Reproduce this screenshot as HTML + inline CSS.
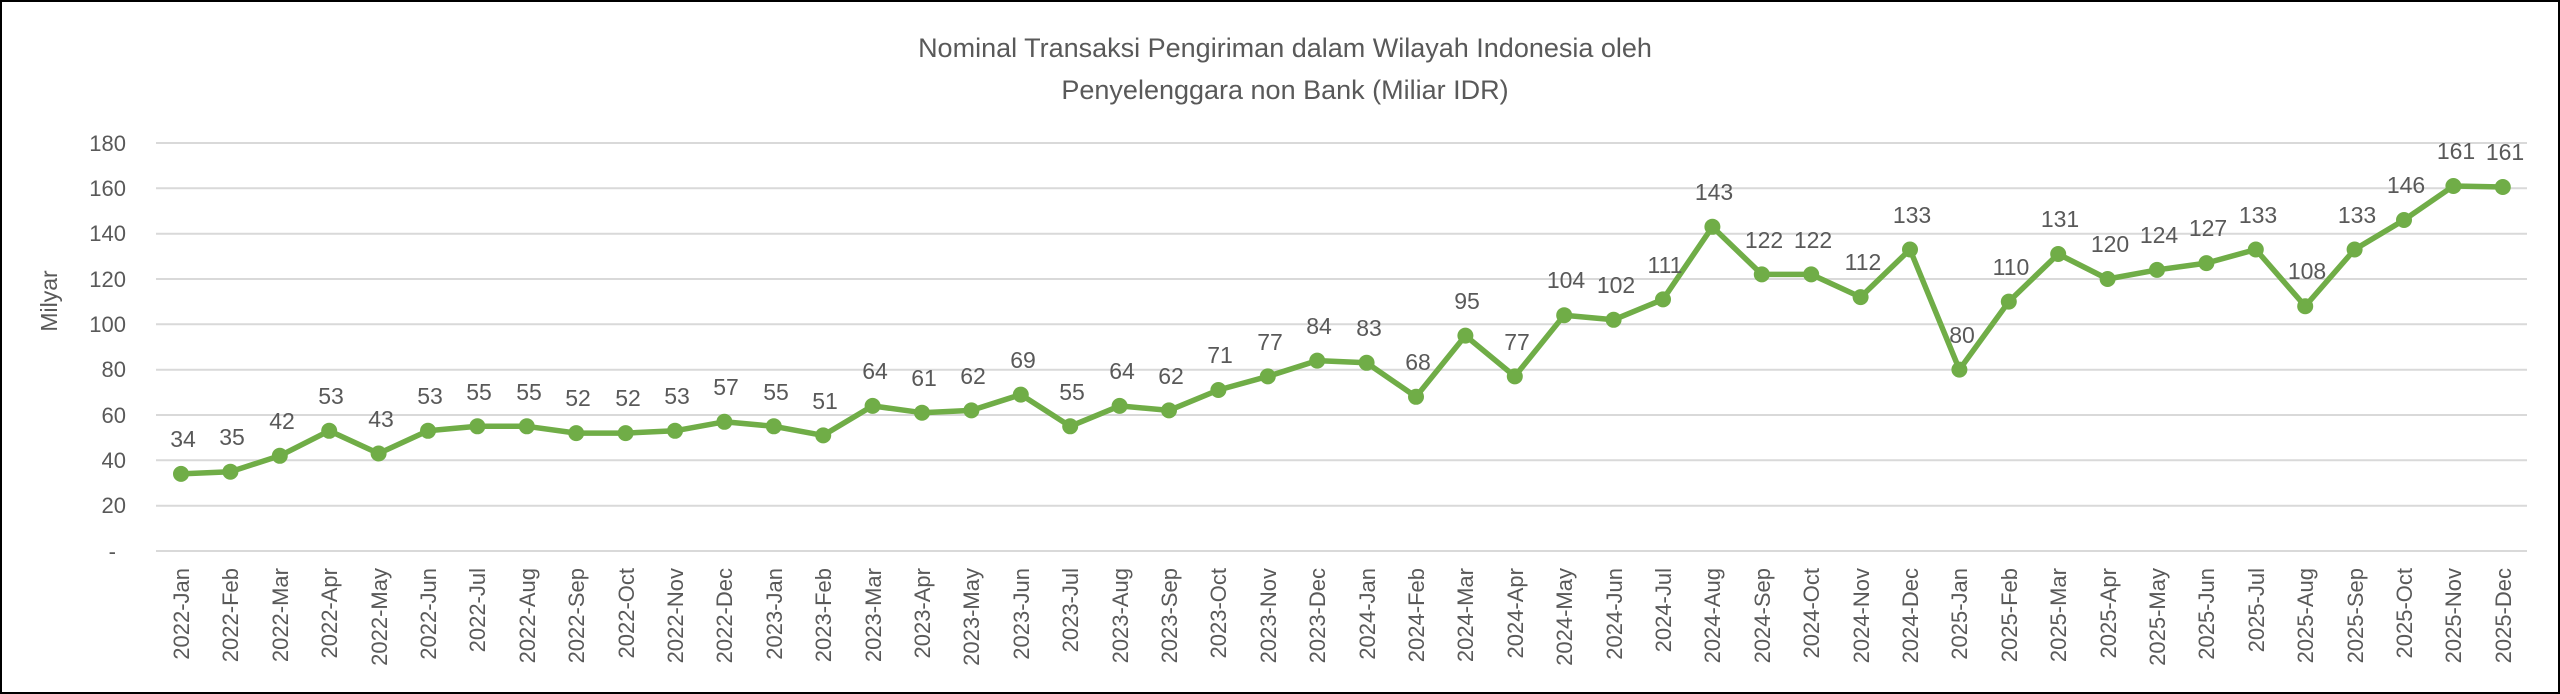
<!DOCTYPE html>
<html><head><meta charset="utf-8"><style>
html,body{margin:0;padding:0;background:#fff}
svg{display:block}
text{font-family:"Liberation Sans",sans-serif;fill:#595959}
</style></head><body>
<svg width="2560" height="694" viewBox="0 0 2560 694" xmlns="http://www.w3.org/2000/svg">
<rect x="1" y="1" width="2558" height="692" fill="#fff" stroke="#000" stroke-width="2"/>
<text x="1285" y="57" font-size="27" text-anchor="middle">Nominal Transaksi Pengiriman dalam Wilayah Indonesia oleh</text>
<text x="1285" y="99" font-size="27" text-anchor="middle">Penyelenggara non Bank (Miliar IDR)</text>
<g stroke="#d9d9d9" stroke-width="2">
<line x1="156" x2="2527" y1="143" y2="143"/><line x1="156" x2="2527" y1="188.3" y2="188.3"/>
<line x1="156" x2="2527" y1="233.7" y2="233.7"/><line x1="156" x2="2527" y1="279" y2="279"/>
<line x1="156" x2="2527" y1="324.3" y2="324.3"/><line x1="156" x2="2527" y1="369.7" y2="369.7"/>
<line x1="156" x2="2527" y1="415" y2="415"/><line x1="156" x2="2527" y1="460.3" y2="460.3"/>
<line x1="156" x2="2527" y1="505.7" y2="505.7"/><line x1="156" x2="2527" y1="551" y2="551"/>
</g>
<g font-size="22" text-anchor="end">
<text x="126" y="151">180</text><text x="126" y="196">160</text><text x="126" y="241">140</text>
<text x="126" y="287">120</text><text x="126" y="332">100</text><text x="126" y="377">80</text>
<text x="126" y="423">60</text><text x="126" y="468">40</text><text x="126" y="513">20</text>
<text x="116" y="559">-</text>
</g>
<text transform="translate(57,301) rotate(-90)" font-size="23" text-anchor="middle">Milyar</text>
<polyline fill="none" stroke="#70ad47" stroke-width="5.5" stroke-linejoin="round" points="181,473.9 230.4,471.7 279.8,455.8 329.2,430.8 378.6,453.5 428,430.8 477.4,426.3 526.8,426.3 576.2,433.1 625.6,433.1 675,430.8 724.4,421.8 773.8,426.3 823.2,435.4 872.6,405.9 922,412.7 971.4,410.4 1020.8,394.6 1070.2,426.3 1119.6,405.9 1169,410.4 1218.4,390 1267.8,376.4 1317.2,360.6 1366.6,362.8 1416,396.8 1465.4,335.6 1514.8,376.4 1564.2,315.2 1613.6,319.8 1663,299.4 1712.4,226.8 1761.8,274.4 1811.2,274.4 1860.6,297.1 1910,249.5 1959.4,369.6 2008.8,301.6 2058.2,254 2107.6,279 2157,269.9 2206.4,263.1 2255.8,249.5 2305.2,306.2 2354.6,249.5 2404,220 2453.4,186 2502.8,187"/>
<g fill="#70ad47">
<circle cx="181" cy="473.9" r="8"/><circle cx="230.4" cy="471.7" r="8"/><circle cx="279.8" cy="455.8" r="8"/><circle cx="329.2" cy="430.8" r="8"/><circle cx="378.6" cy="453.5" r="8"/><circle cx="428" cy="430.8" r="8"/><circle cx="477.4" cy="426.3" r="8"/><circle cx="526.8" cy="426.3" r="8"/><circle cx="576.2" cy="433.1" r="8"/><circle cx="625.6" cy="433.1" r="8"/><circle cx="675" cy="430.8" r="8"/><circle cx="724.4" cy="421.8" r="8"/><circle cx="773.8" cy="426.3" r="8"/><circle cx="823.2" cy="435.4" r="8"/><circle cx="872.6" cy="405.9" r="8"/><circle cx="922" cy="412.7" r="8"/><circle cx="971.4" cy="410.4" r="8"/><circle cx="1020.8" cy="394.6" r="8"/><circle cx="1070.2" cy="426.3" r="8"/><circle cx="1119.6" cy="405.9" r="8"/><circle cx="1169" cy="410.4" r="8"/><circle cx="1218.4" cy="390" r="8"/><circle cx="1267.8" cy="376.4" r="8"/><circle cx="1317.2" cy="360.6" r="8"/><circle cx="1366.6" cy="362.8" r="8"/><circle cx="1416" cy="396.8" r="8"/><circle cx="1465.4" cy="335.6" r="8"/><circle cx="1514.8" cy="376.4" r="8"/><circle cx="1564.2" cy="315.2" r="8"/><circle cx="1613.6" cy="319.8" r="8"/><circle cx="1663" cy="299.4" r="8"/><circle cx="1712.4" cy="226.8" r="8"/><circle cx="1761.8" cy="274.4" r="8"/><circle cx="1811.2" cy="274.4" r="8"/><circle cx="1860.6" cy="297.1" r="8"/><circle cx="1910" cy="249.5" r="8"/><circle cx="1959.4" cy="369.6" r="8"/><circle cx="2008.8" cy="301.6" r="8"/><circle cx="2058.2" cy="254" r="8"/><circle cx="2107.6" cy="279" r="8"/><circle cx="2157" cy="269.9" r="8"/><circle cx="2206.4" cy="263.1" r="8"/><circle cx="2255.8" cy="249.5" r="8"/><circle cx="2305.2" cy="306.2" r="8"/><circle cx="2354.6" cy="249.5" r="8"/><circle cx="2404" cy="220" r="8"/><circle cx="2453.4" cy="186" r="8"/><circle cx="2502.8" cy="187" r="8"/>
</g>
<g font-size="23" text-anchor="middle" style="fill:#404040">
<text x="183" y="447">34</text><text x="232" y="445">35</text><text x="282" y="429">42</text><text x="331" y="404">53</text><text x="381" y="427">43</text><text x="430" y="404">53</text><text x="479" y="400">55</text><text x="529" y="400">55</text><text x="578" y="406">52</text><text x="628" y="406">52</text><text x="677" y="404">53</text><text x="726" y="395">57</text><text x="776" y="400">55</text><text x="825" y="409">51</text><text x="875" y="379">64</text><text x="924" y="386">61</text><text x="973" y="384">62</text><text x="1023" y="368">69</text><text x="1072" y="400">55</text><text x="1122" y="379">64</text><text x="1171" y="384">62</text><text x="1220" y="363">71</text><text x="1270" y="350">77</text><text x="1319" y="334">84</text><text x="1369" y="336">83</text><text x="1418" y="370">68</text><text x="1467" y="309">95</text><text x="1517" y="350">77</text><text x="1566" y="288">104</text><text x="1616" y="293">102</text><text x="1665" y="273">111</text><text x="1714" y="200">143</text><text x="1764" y="248">122</text><text x="1813" y="248">122</text><text x="1863" y="270">112</text><text x="1912" y="223">133</text><text x="1962" y="343">80</text><text x="2011" y="275">110</text><text x="2060" y="227">131</text><text x="2110" y="252">120</text><text x="2159" y="243">124</text><text x="2208" y="236">127</text><text x="2258" y="223">133</text><text x="2307" y="279">108</text><text x="2357" y="223">133</text><text x="2406" y="193">146</text><text x="2456" y="159">161</text><text x="2505" y="160">161</text>
</g>
<g font-size="22" text-anchor="end">
<text transform="translate(189,568) rotate(-90)">2022-Jan</text><text transform="translate(238,568) rotate(-90)">2022-Feb</text><text transform="translate(288,568) rotate(-90)">2022-Mar</text><text transform="translate(337,568) rotate(-90)">2022-Apr</text><text transform="translate(387,568) rotate(-90)">2022-May</text><text transform="translate(436,568) rotate(-90)">2022-Jun</text><text transform="translate(485,568) rotate(-90)">2022-Jul</text><text transform="translate(535,568) rotate(-90)">2022-Aug</text><text transform="translate(584,568) rotate(-90)">2022-Sep</text><text transform="translate(634,568) rotate(-90)">2022-Oct</text><text transform="translate(683,568) rotate(-90)">2022-Nov</text><text transform="translate(732,568) rotate(-90)">2022-Dec</text>
<text transform="translate(782,568) rotate(-90)">2023-Jan</text><text transform="translate(831,568) rotate(-90)">2023-Feb</text><text transform="translate(881,568) rotate(-90)">2023-Mar</text><text transform="translate(930,568) rotate(-90)">2023-Apr</text><text transform="translate(979,568) rotate(-90)">2023-May</text><text transform="translate(1029,568) rotate(-90)">2023-Jun</text><text transform="translate(1078,568) rotate(-90)">2023-Jul</text><text transform="translate(1128,568) rotate(-90)">2023-Aug</text><text transform="translate(1177,568) rotate(-90)">2023-Sep</text><text transform="translate(1226,568) rotate(-90)">2023-Oct</text><text transform="translate(1276,568) rotate(-90)">2023-Nov</text><text transform="translate(1325,568) rotate(-90)">2023-Dec</text>
<text transform="translate(1375,568) rotate(-90)">2024-Jan</text><text transform="translate(1424,568) rotate(-90)">2024-Feb</text><text transform="translate(1473,568) rotate(-90)">2024-Mar</text><text transform="translate(1523,568) rotate(-90)">2024-Apr</text><text transform="translate(1572,568) rotate(-90)">2024-May</text><text transform="translate(1622,568) rotate(-90)">2024-Jun</text><text transform="translate(1671,568) rotate(-90)">2024-Jul</text><text transform="translate(1720,568) rotate(-90)">2024-Aug</text><text transform="translate(1770,568) rotate(-90)">2024-Sep</text><text transform="translate(1819,568) rotate(-90)">2024-Oct</text><text transform="translate(1869,568) rotate(-90)">2024-Nov</text><text transform="translate(1918,568) rotate(-90)">2024-Dec</text>
<text transform="translate(1967,568) rotate(-90)">2025-Jan</text><text transform="translate(2017,568) rotate(-90)">2025-Feb</text><text transform="translate(2066,568) rotate(-90)">2025-Mar</text><text transform="translate(2116,568) rotate(-90)">2025-Apr</text><text transform="translate(2165,568) rotate(-90)">2025-May</text><text transform="translate(2214,568) rotate(-90)">2025-Jun</text><text transform="translate(2264,568) rotate(-90)">2025-Jul</text><text transform="translate(2313,568) rotate(-90)">2025-Aug</text><text transform="translate(2363,568) rotate(-90)">2025-Sep</text><text transform="translate(2412,568) rotate(-90)">2025-Oct</text><text transform="translate(2461,568) rotate(-90)">2025-Nov</text><text transform="translate(2511,568) rotate(-90)">2025-Dec</text>
</g>
</svg>
</body></html>
